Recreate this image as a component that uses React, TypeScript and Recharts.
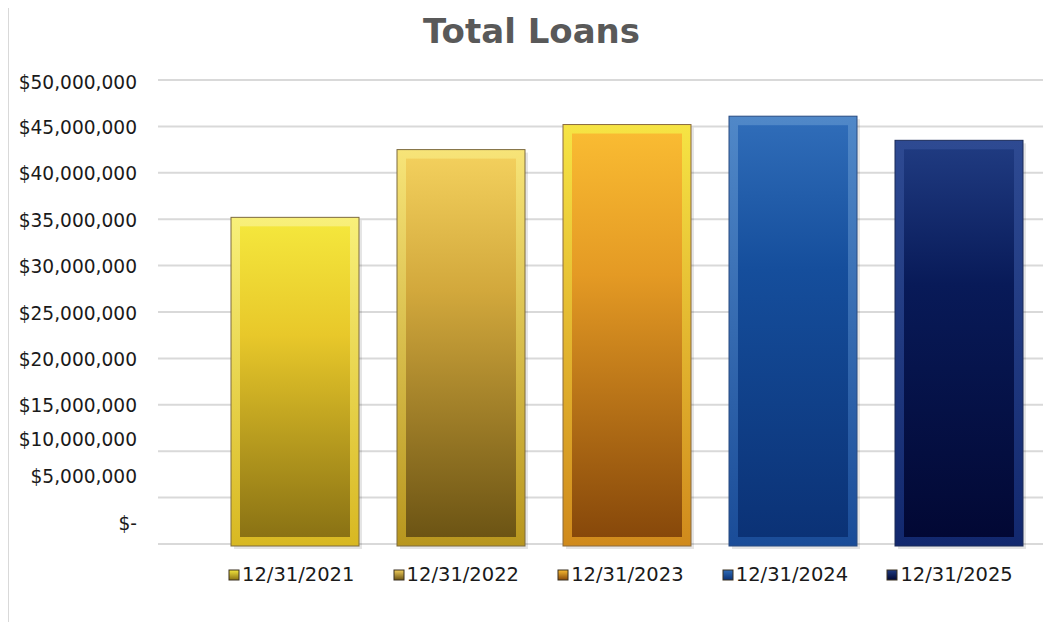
import React from "react";
import { BarChart, Bar, XAxis, YAxis, CartesianGrid, Legend } from "recharts";

const categories = ["12/31/2021", "12/31/2022", "12/31/2023", "12/31/2024", "12/31/2025"];
const loanTotals = [35200000, 42500000, 45200000, 46100000, 43500000];
const yTicks = [0, 5000000, 10000000, 15000000, 20000000, 25000000, 30000000, 35000000, 40000000, 45000000, 50000000];

// excel drew the lowest three labels a bit off their gridlines
const tickShift: Record<number, number> = { 0: -21, 5000000: -21, 10000000: -12, 50000000: 2 };

const palette = [
	{ body: ["#f4e63c", "#e8c82a", "#8a7214"], frame: ["#f8f07a", "#d8b822"], edge: "#7c6a3e" },
	{ body: ["#f2cf5c", "#d2a83c", "#6c5414"], frame: ["#f7e478", "#b8961e"], edge: "#7c6a3e" },
	{ body: ["#f9bb32", "#e49a24", "#87480a"], frame: ["#f6e444", "#d08a1c"], edge: "#8a6a3e" },
	{ body: ["#2f6cb8", "#154e9c", "#0b3276"], frame: ["#5088c8", "#1a4c98"], edge: "#284a80" },
	{ body: ["#1f3a80", "#081a58", "#020834"], frame: ["#2e4a92", "#12286e"], edge: "#1a2a58" },
];

const row: Record<string, string | number> = { name: "Total Loans" };
categories.forEach((c, i) => {
	row[`s${i}`] = loanTotals[i];
});
const data = [row];

const fmtMoney = (v: number) => (v === 0 ? "$-" : "$" + v.toLocaleString("en-US"));

const font = "'DejaVu Sans', Verdana, sans-serif";

const bevelShape = (i: number) => (props: any) => {
	const { x, y, width, height } = props;
	if (!width || height == null) return null;
	const h = height + 2;
	const f = 9;
	return (
		<g>
			<rect x={x + 3} y={y + 3} width={width} height={h} fill="#000" opacity={0.1} />
			<rect
				x={x}
				y={y}
				width={width}
				height={h}
				fill={`url(#frame${i})`}
				stroke={palette[i].edge}
				strokeWidth={1}
			/>
			<rect x={x + f} y={y + f} width={width - 2 * f} height={h - 2 * f} fill={`url(#body${i})`} />
		</g>
	);
};

const YTick = (props: any) => {
	const { x, y, payload } = props;
	const shift = tickShift[payload.value] ?? 1;
	return (
		<text
			x={x}
			y={y + shift}
			dy="0.36em"
			textAnchor="end"
			fontFamily={font}
			fontSize={18.6}
			fill="#1a1a1a">
			{fmtMoney(payload.value)}
		</text>
	);
};

const LegendBox = () => (
	<div style={{ display: "flex", paddingLeft: 228, fontFamily: font, fontSize: 19.5, color: "#1a1a1a" }}>
		{categories.map((c, i) => (
			<div key={c} style={{ width: 166, display: "flex", alignItems: "center" }}>
				<svg width={13} height={12} style={{ marginRight: 1 }}>
					<defs>
						<linearGradient id={`lg${i}`} x1="0" y1="0" x2="0" y2="1">
							<stop offset="0%" stopColor={palette[i].body[0]} />
							<stop offset="100%" stopColor={palette[i].body[2]} />
						</linearGradient>
					</defs>
					<rect x={1} y={1} width={10} height={10} fill={`url(#lg${i})`} stroke="#3a3020" strokeWidth={1} />
				</svg>
				<span>{c}</span>
			</div>
		))}
	</div>
);

export default function App() {
	return (
		<div style={{ position: "relative", marginLeft: -8, marginTop: -8, width: 1051, height: 622, overflow: "hidden" }}>
			<div
				style={{
					position: "absolute",
					left: 8,
					top: 4,
					width: 1060,
					height: 630,
					border: "1px solid #d9d9d9",
				}}
			/>
			<div
				style={{
					position: "absolute",
					left: 0,
					width: 1063,
					top: 11,
					textAlign: "center",
					fontFamily: font,
					fontWeight: "bold",
					fontSize: 34,
					color: "#595959",
				}}>
				Total Loans
			</div>
			<BarChart
				width={1051}
				height={622}
				data={data}
				margin={{ top: 80, right: 2, bottom: 48, left: 0 }}
				barSize={128}
				barGap={38}>
				<defs>
					{palette.map((p, i) => (
						<React.Fragment key={i}>
							<linearGradient id={`body${i}`} x1="0" y1="0" x2="0" y2="1">
								<stop offset="0%" stopColor={p.body[0]} />
								<stop offset="35%" stopColor={p.body[1]} />
								<stop offset="100%" stopColor={p.body[2]} />
							</linearGradient>
							<linearGradient id={`frame${i}`} x1="0" y1="0" x2="0" y2="1">
								<stop offset="0%" stopColor={p.frame[0]} />
								<stop offset="100%" stopColor={p.frame[1]} />
							</linearGradient>
						</React.Fragment>
					))}
				</defs>
				<CartesianGrid vertical={false} stroke="#d9d9d9" strokeWidth={2} />
				<XAxis dataKey="name" hide padding={{ left: 46, right: 0 }} />
				<YAxis
					width={158}
					domain={[0, 50000000]}
					ticks={yTicks}
					interval={0}
					axisLine={false}
					tickLine={false}
					tick={<YTick />}
					tickMargin={15}
				/>
				<Legend
					verticalAlign="bottom"
					content={<LegendBox />}
					wrapperStyle={{ left: 0, top: 563, bottom: "auto", width: 1051, height: 30 }}
				/>
				{categories.map((c, i) => (
					<Bar
						key={c}
						dataKey={`s${i}`}
						name={c}
						fill={palette[i].body[1]}
						shape={bevelShape(i)}
						isAnimationActive={false}
					/>
				))}
			</BarChart>
		</div>
	);
}
